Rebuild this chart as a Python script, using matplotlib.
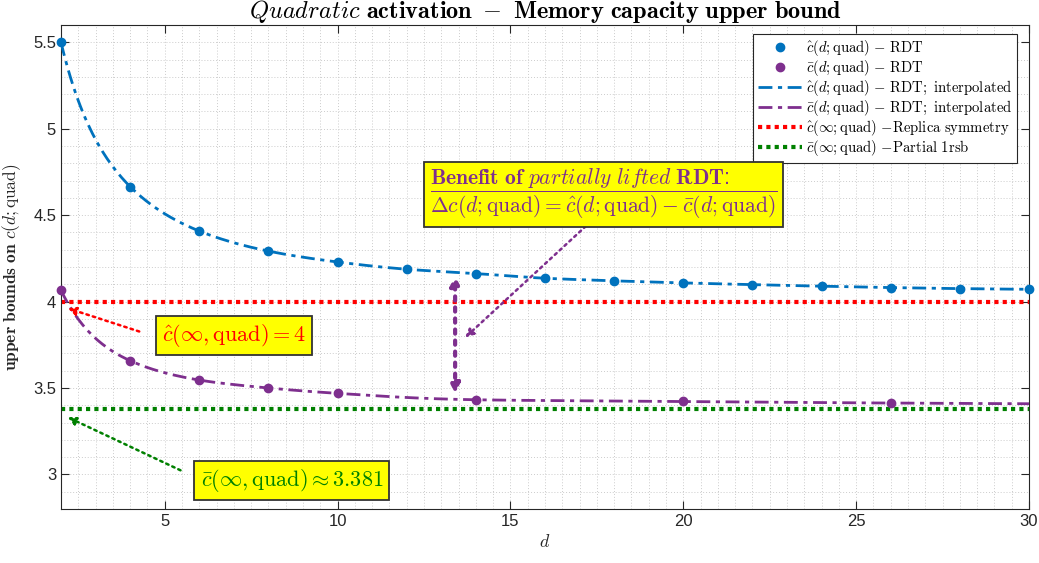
import numpy as np
import matplotlib
matplotlib.use("Agg")
import matplotlib.pyplot as plt
from matplotlib.lines import Line2D


# values
d_hat = [2, 4, 6, 8, 10, 12, 14, 16, 18, 20, 22, 24, 26, 28, 30]
c_hat = [5.500, 4.665, 4.408, 4.292, 4.229, 4.187, 4.162, 4.135, 4.120,
         4.108, 4.098, 4.089, 4.081, 4.075, 4.071]

d_bar = [2, 4, 6, 8, 10, 14, 20, 26]
c_bar = [4.065, 3.658, 3.546, 3.500, 3.469, 3.432, 3.422, 3.413]

c_hat_inf = 4.0
c_bar_inf = 3.381

BLUE = "#0072BD"
PURPLE = "#7E2F8E"
RED = "#FF0000"
GREEN = "#008000"
YELLOW = "#FFFF00"


def pchip(x, y, xn):
    # monotone cubic hermite, linear extrapolation outside the data
    x = np.asarray(x, float)
    y = np.asarray(y, float)
    h = np.diff(x)
    delta = np.diff(y) / h
    n = len(x)
    m = np.zeros(n)
    m[0], m[-1] = delta[0], delta[-1]
    for k in range(1, n - 1):
        if delta[k - 1] * delta[k] > 0:
            w1 = 2 * h[k] + h[k - 1]
            w2 = h[k] + 2 * h[k - 1]
            m[k] = (w1 + w2) / (w1 / delta[k - 1] + w2 / delta[k])
    out = np.empty_like(xn, dtype=float)
    for i, xv in enumerate(xn):
        if xv <= x[0]:
            out[i] = y[0] + m[0] * (xv - x[0])
            continue
        if xv >= x[-1]:
            out[i] = y[-1] + m[-1] * (xv - x[-1])
            continue
        k = np.searchsorted(x, xv) - 1
        t = (xv - x[k]) / h[k]
        h00 = 2 * t**3 - 3 * t**2 + 1
        h10 = t**3 - 2 * t**2 + t
        h01 = -2 * t**3 + 3 * t**2
        h11 = t**3 - t**2
        out[i] = h00 * y[k] + h10 * h[k] * m[k] + h01 * y[k + 1] + h11 * h[k] * m[k + 1]
    return out


def smooth_curve(d, c, d_fine):
    # interpolate in 1/d, where the curves are nearly straight
    u = 1.0 / np.asarray(d, float)
    order = np.argsort(u)
    return pchip(u[order], np.asarray(c)[order], 1.0 / d_fine)


def main():
    plt.rcParams.update({
        "mathtext.fontset": "cm",
        "font.family": ["Liberation Sans", "DejaVu Sans"],
        "font.size": 11,
    })

    fig = plt.figure(figsize=(10.39, 5.63), dpi=100)
    ax = fig.add_axes([0.0587, 0.0959, 0.9317, 0.8597])

    d_fine = np.linspace(2, 30, 400)
    dashdot = (0, (5, 2, 1.5, 2))

    ax.axhline(c_hat_inf, color=RED, lw=3, ls=(0, (1, 1)), zorder=2)
    ax.axhline(c_bar_inf, color=GREEN, lw=3, ls=(0, (1, 1)), zorder=2)
    ax.plot(d_fine, smooth_curve(d_hat, c_hat, d_fine), color=BLUE, lw=2, ls=dashdot, zorder=3)
    ax.plot(d_fine, smooth_curve(d_bar, c_bar, d_fine), color=PURPLE, lw=2, ls=dashdot, zorder=3)
    ax.plot(d_hat, c_hat, "o", color=BLUE, ms=6, zorder=4, clip_on=False)
    ax.plot(d_bar, c_bar, "o", color=PURPLE, ms=6, zorder=4, clip_on=False)

    ax.set_xlim(2, 30)
    ax.set_ylim(2.8, 5.6)
    ax.set_xticks([5, 10, 15, 20, 25, 30])
    ax.set_yticks([3, 3.5, 4, 4.5, 5, 5.5])
    ax.set_xticks(np.arange(2, 30.01, 0.5), minor=True)
    ax.set_yticks(np.arange(2.8, 5.601, 0.1), minor=True)
    ax.set_yticklabels(["3", "3.5", "4", "4.5", "5", "5.5"])
    ax.tick_params(which="major", direction="in", length=6, width=0.8,
                   top=True, right=True, labelsize=12, colors="#262626")
    ax.tick_params(which="minor", length=0, top=True, right=True)
    ax.grid(which="both", color="#cccccc", ls=(0, (1, 2)), lw=0.7)
    for s in ax.spines.values():
        s.set_color("#262626")
        s.set_linewidth(0.8)

    ax.set_xlabel(r"$d$", fontsize=13, color="#262626", labelpad=4)
    ax.set_ylabel(r"$\mathbf{upper\ bounds\ on}\ c(d;\mathrm{quad})$", fontsize=12.5,
                  color="#262626", labelpad=7)
    ax.set_title(r"$\mathit{Quadratic}\ \mathbf{activation\ -\ Memory\ capacity\ upper\ bound}$",
                 fontsize=17.5, pad=2)

    handles = [
        Line2D([], [], ls="none", marker="o", color=BLUE, ms=6),
        Line2D([], [], ls="none", marker="o", color=PURPLE, ms=6),
        Line2D([], [], color=BLUE, lw=2, ls=dashdot),
        Line2D([], [], color=PURPLE, lw=2, ls=dashdot),
        Line2D([], [], color=RED, lw=3, ls=(0, (1, 1))),
        Line2D([], [], color=GREEN, lw=3, ls=(0, (1, 1))),
    ]
    labels = [
        r"$\hat{c}(d{;}\mathrm{quad})\ \mathrm{-\ RDT}$",
        r"$\bar{c}(d{;}\mathrm{quad})\ \mathrm{-\ RDT}$",
        r"$\hat{c}(d{;}\mathrm{quad})\ \mathrm{-\ RDT{;}\ interpolated}$",
        r"$\bar{c}(d{;}\mathrm{quad})\ \mathrm{-\ RDT{;}\ interpolated}$",
        r"$\hat{c}(\infty{;}\mathrm{quad})\ \mathrm{-Replica\ symmetry}$",
        r"$\bar{c}(\infty{;}\mathrm{quad})\ \mathrm{-Partial\ 1rsb}$",
    ]
    leg = ax.legend(handles, labels, loc="upper right", fontsize=10.6, frameon=True,
                    fancybox=False, edgecolor="#262626", framealpha=1,
                    bbox_to_anchor=(0.9876, 0.9814), borderaxespad=0,
                    handlelength=3.0, handletextpad=0.3,
                    labelspacing=0.0, borderpad=0.3)
    leg.get_frame().set_linewidth(0.8)

    box = dict(boxstyle="square,pad=0.28", fc=YELLOW, ec="#333333", lw=1.3)

    # red annotation
    ax.annotate("", xy=(2.12, 3.966), xytext=(4.34, 3.822),
                arrowprops=dict(arrowstyle="-|>", color=RED, lw=1.8, ls=":",
                                mutation_scale=12))
    ax.text(7.0, 3.804, r"$\hat{c}(\infty,\mathrm{quad})=\mathbf{4}$", color=RED,
            fontsize=16, ha="center", va="center", bbox=box, zorder=6)

    # green annotation
    ax.annotate("", xy=(2.12, 3.338), xytext=(5.53, 3.017),
                arrowprops=dict(arrowstyle="-|>", color=GREEN, lw=1.8, ls=":",
                                mutation_scale=12))
    ax.text(8.68, 2.965, r"$\bar{c}(\infty,\mathrm{quad})\approx\mathbf{3.381}$", color=GREEN,
            fontsize=16, ha="center", va="center", bbox=box, zorder=6)

    # purple annotation
    ax.annotate("", xy=(13.63, 3.781), xytext=(17.24, 4.447),
                arrowprops=dict(arrowstyle="-|>", color=PURPLE, lw=1.8, ls=":",
                                mutation_scale=12))
    ax.annotate("", xy=(13.40, 4.150), xytext=(13.40, 3.468),
                arrowprops=dict(arrowstyle="<|-|>", color=PURPLE, lw=3, ls=":",
                                mutation_scale=14, shrinkA=0, shrinkB=0))
    ax.text(17.7, 4.626,
            r"$\mathbf{Benefit\ of\ }\mathit{partially\ lifted}\ \mathbf{RDT}$:" "\n"
            r"$\overline{\Delta c(d{;}\mathrm{quad})=\hat{c}(d{;}\mathrm{quad})-\bar{c}(d{;}\mathrm{quad})}$",
            color=PURPLE, fontsize=15.5, ha="center", va="center", linespacing=0.95,
            multialignment="left", bbox=box, zorder=6)

    fig.savefig("out.png", dpi=100)
    plt.close(fig)


if __name__ == "__main__":
    main()
